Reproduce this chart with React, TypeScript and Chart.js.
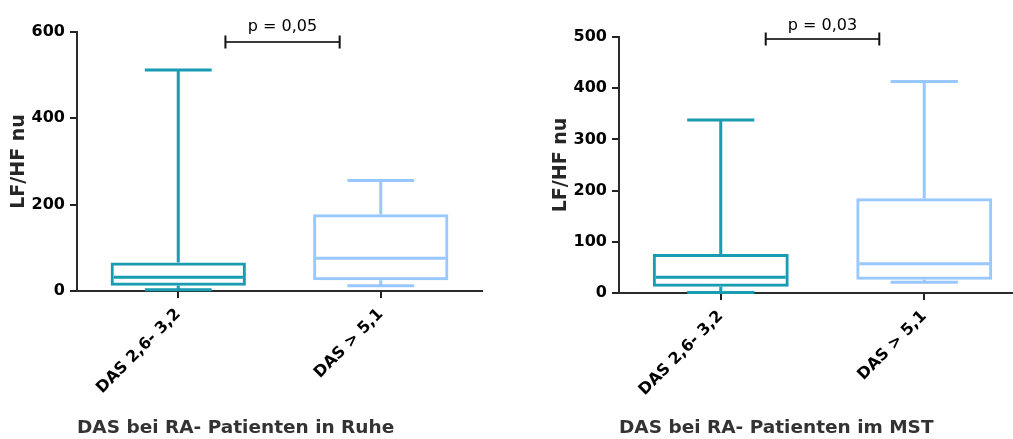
import React, { useEffect, useRef } from 'react';
import { Chart, registerables } from 'chart.js';

Chart.register(...registerables);

// Groups on the x axis
const categories = ['DAS 2,6- 3,2', 'DAS > 5,1'];
const groupColors = ['#189cb2', '#99c7ff'];

// LF/HF nu at rest (Ruhe): five-number summaries per group
const restMin = [3, 12];
const restQ1 = [12, 25];
const restMedian = [32, 76];
const restQ3 = [66, 178];
const restMax = [512, 256];

// LF/HF nu during the mental stress test (MST)
const mstMin = [1, 21];
const mstQ1 = [12, 26];
const mstMedian = [31, 57];
const mstQ3 = [76, 185];
const mstMax = [338, 413];

// Axis ranges
const restAxisMax = 600;
const restAxisStep = 200;
const mstAxisMax = 500;
const mstAxisStep = 100;

// Significance annotations
const restPText = 'p = 0,05';
const mstPText = 'p = 0,03';

const FONT = '"DejaVu Sans", sans-serif';
Chart.defaults.font.family = FONT;

type Stats = {
  min: number[];
  q1: number[];
  median: number[];
  q3: number[];
  max: number[];
};

type PanelProps = {
  stats: Stats;
  yMax: number;
  yStep: number;
  xTitle: string;
  pText: string;
  bracket: { from: number; to: number; y: number; textY: number };
  left: number;
  width: number;
  padTop: number;
  padRight: number;
  yAxisWidth: number;
  xAxisHeight: number;
  yTitlePad: number;
};

const HEIGHT = 439;

function BoxPanel(p: PanelProps) {
  const ref = useRef<HTMLCanvasElement>(null);

  useEffect(() => {
    const { stats } = p;
    const lw = 3;
    const capFraction = 0.33;

    const whiskers = {
      id: 'whiskers',
      afterDatasetsDraw(chart: any) {
        const { ctx, scales } = chart;
        const xs = scales.x;
        const ys = scales.y;
        const meta = chart.getDatasetMeta(0);
        const catWidth = xs.width / categories.length;
        ctx.save();
        ctx.lineWidth = lw;
        ctx.lineCap = 'butt';
        categories.forEach((_, i) => {
          const bar = meta.data[i];
          const cx = xs.getPixelForValue(i);
          const half = bar.width / 2;
          const capHalf = (catWidth * capFraction) / 2;
          const yMin = ys.getPixelForValue(stats.min[i]);
          const yQ1 = ys.getPixelForValue(stats.q1[i]);
          const yMed = ys.getPixelForValue(stats.median[i]);
          const yQ3 = ys.getPixelForValue(stats.q3[i]);
          const yMaxPx = ys.getPixelForValue(stats.max[i]);
          ctx.strokeStyle = groupColors[i];
          ctx.beginPath();
          // median
          ctx.moveTo(cx - half + lw, yMed);
          ctx.lineTo(cx + half - lw, yMed);
          // upper whisker and cap
          ctx.moveTo(cx, yQ3);
          ctx.lineTo(cx, yMaxPx);
          ctx.moveTo(cx - capHalf, yMaxPx);
          ctx.lineTo(cx + capHalf, yMaxPx);
          // lower whisker and cap
          ctx.moveTo(cx, yQ1);
          ctx.lineTo(cx, yMin);
          ctx.moveTo(cx - capHalf, yMin);
          ctx.lineTo(cx + capHalf, yMin);
          ctx.stroke();
        });
        ctx.restore();
      },
      afterDraw(chart: any) {
        const { ctx, scales } = chart;
        const xs = scales.x;
        const ys = scales.y;
        const b = p.bracket;
        const x1 = xs.getPixelForValue(b.from);
        const x2 = xs.getPixelForValue(b.to);
        const yb = ys.getPixelForValue(b.y);
        ctx.save();
        ctx.strokeStyle = '#3a3a3a';
        ctx.lineWidth = 2;
        ctx.beginPath();
        ctx.moveTo(x1, yb);
        ctx.lineTo(x2, yb);
        ctx.stroke();
        ctx.strokeStyle = '#111';
        ctx.beginPath();
        ctx.moveTo(x1, yb - 6.5);
        ctx.lineTo(x1, yb + 6.5);
        ctx.moveTo(x2, yb - 6.5);
        ctx.lineTo(x2, yb + 6.5);
        ctx.stroke();
        ctx.fillStyle = '#000';
        ctx.font = `16px ${FONT}`;
        ctx.textAlign = 'center';
        ctx.textBaseline = 'alphabetic';
        ctx.fillText(p.pText, (x1 + x2) / 2, ys.getPixelForValue(b.textY));
        ctx.restore();
      },
    };

    const axisLine = { color: '#2b2b2b', width: 2, dash: [2, 1] };
    const tickGrid = {
      drawOnChartArea: false,
      drawTicks: true,
      tickLength: 7,
      lineWidth: 2,
      color: '#222',
    };

    const chart = new Chart(ref.current as HTMLCanvasElement, {
      type: 'bar',
      data: {
        labels: categories,
        datasets: [
          {
            data: stats.q1.map((v, i) => [v, stats.q3[i]]) as any,
            backgroundColor: 'rgba(255,255,255,0)',
            borderColor: groupColors,
            borderWidth: lw,
            borderSkipped: false,
            barPercentage: 0.668,
            categoryPercentage: 1,
          },
        ],
      },
      options: {
        responsive: false,
        animation: false,
        events: [],
        layout: { padding: { left: 0, right: p.padRight, top: p.padTop, bottom: 0 } },
        plugins: { legend: { display: false }, tooltip: { enabled: false } },
        scales: {
          x: {
            offset: true,
            grid: { ...tickGrid, offset: false },
            border: axisLine,
            ticks: {
              minRotation: 45,
              maxRotation: 45,
              autoSkip: false,
              padding: 7,
              color: '#000',
              font: { size: 16, weight: 'bold' },
            },
            title: {
              display: true,
              text: p.xTitle,
              align: 'start',
              color: '#333',
              font: { size: 18.5, weight: 'bold' },
              padding: { top: 0, bottom: 0 },
            },
            afterFit: (s: any) => {
              s.height = p.xAxisHeight;
            },
          },
          y: {
            min: 0,
            max: p.yMax,
            grid: tickGrid,
            border: axisLine,
            ticks: {
              stepSize: p.yStep,
              padding: 5,
              color: '#000',
              font: { size: 16, weight: 'bold' },
            },
            title: {
              display: true,
              text: 'LF/HF nu',
              color: '#262626',
              font: { size: 19, weight: 'bold' },
              padding: { top: p.yTitlePad, bottom: 0 },
            },
            afterFit: (s: any) => {
              s.width = p.yAxisWidth;
            },
          },
        },
      } as any,
      plugins: [whiskers],
    });
    return () => chart.destroy();
  }, []);

  return (
    <canvas
      ref={ref}
      width={p.width}
      height={HEIGHT}
      style={{ position: 'absolute', left: p.left, top: 0, width: p.width, height: HEIGHT }}
    />
  );
}

export default function App() {
  return (
    <div
      style={{
        position: 'fixed',
        left: 0,
        top: 0,
        width: 1013,
        height: HEIGHT,
        overflow: 'hidden',
        background: '#fff',
      }}
    >
      <BoxPanel
        stats={{ min: restMin, q1: restQ1, median: restMedian, q3: restQ3, max: restMax }}
        yMax={restAxisMax}
        yStep={restAxisStep}
        xTitle="DAS bei RA- Patienten in Ruhe"
        pText={restPText}
        bracket={{ from: 0.233, to: 0.797, y: 577, textY: 603 }}
        left={0}
        width={510}
        padTop={32}
        padRight={28}
        yAxisWidth={77}
        xAxisHeight={148}
        yTitlePad={8}
      />
      <BoxPanel
        stats={{ min: mstMin, q1: mstQ1, median: mstMedian, q3: mstQ3, max: mstMax }}
        yMax={mstAxisMax}
        yStep={mstAxisStep}
        xTitle="DAS bei RA- Patienten im MST"
        pText={mstPText}
        bracket={{ from: 0.221, to: 0.779, y: 496, textY: 514 }}
        left={540}
        width={486}
        padTop={37}
        padRight={0}
        yAxisWidth={79}
        xAxisHeight={146}
        yTitlePad={10}
      />
    </div>
  );
}
